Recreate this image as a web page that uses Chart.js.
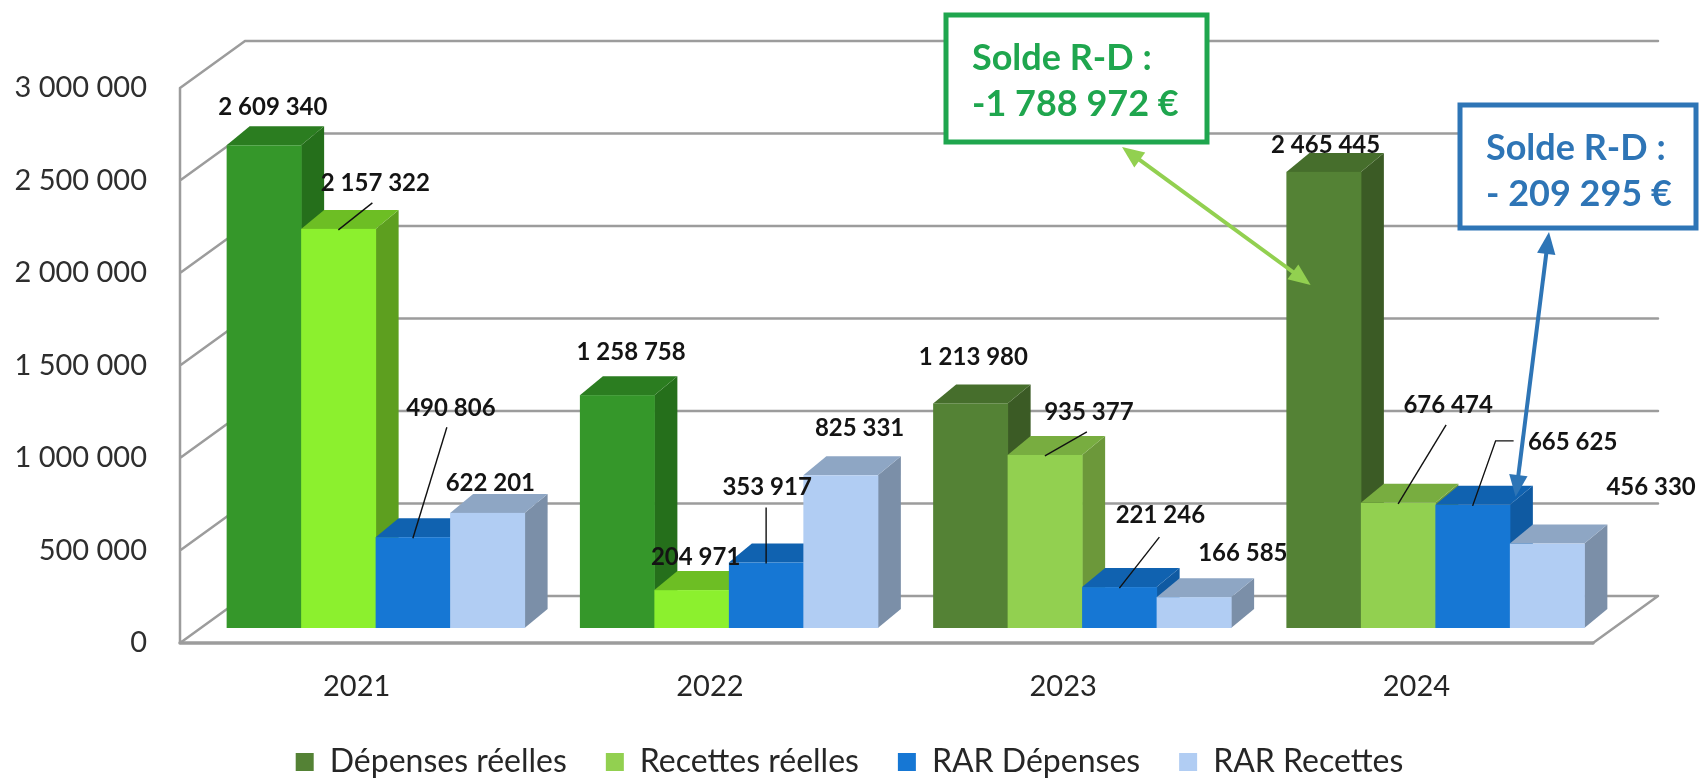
<!DOCTYPE html>
<html lang="fr">
<head>
<meta charset="utf-8">
<title>Dépenses et recettes réelles 2021-2024</title>
<script src="https://cdn.jsdelivr.net/npm/chart.js@4.4.1/dist/chart.umd.min.js"></script>
<style>
  html, body { margin: 0; padding: 0; background: #fff; }
  #chart { display: block; }
</style>
</head>
<body>
<canvas id="chart" width="1699" height="782"></canvas>
<script>
// Values per year
const years = ['2021', '2022', '2023', '2024'];
const depensesReelles = [2609340, 1258758, 1213980, 2465445];
const recettesReelles = [2157322, 204971, 935377, 676474];
const rarDepenses = [490806, 353917, 221246, 665625];
const rarRecettes = [622201, 825331, 166585, 456330];
const yMax = 3000000;
const yStep = 500000;

// Balance call-outs
const soldeTitle = 'Solde R-D :';
const soldeReel = '-1 788 972 €';
const soldeRar = '- 209 295 €';

// Face colours [front, top, side] per series, per year
const faces = [
  [['#35972a', '#2b7d20', '#256f1b'], ['#35972a', '#2b7d20', '#256f1b'], ['#548235', '#466e2c', '#3b5b25'], ['#548235', '#466e2c', '#3b5b25']],
  [['#8cf02e', '#6dbe24', '#5d9f1f'], ['#8cf02e', '#6dbe24', '#5d9f1f'], ['#92d050', '#78ad40', '#6c983a'], ['#92d050', '#78ad40', '#6c983a']],
  [['#1677d4', '#1062b0', '#0f5aa2'], ['#1677d4', '#1062b0', '#0f5aa2'], ['#1677d4', '#1062b0', '#0f5aa2'], ['#1677d4', '#1062b0', '#0f5aa2']],
  [['#b1cdf3', '#8ea6c4', '#7b8fa8'], ['#b1cdf3', '#8ea6c4', '#7b8fa8'], ['#b1cdf3', '#8ea6c4', '#7b8fa8'], ['#b1cdf3', '#8ea6c4', '#7b8fa8']]
];

// Value label placement, relative to the top centre of each bar's front face
const labelOffsets = [
  [[9, -38], [14, -43], [3, -46], [2, -27]],
  [[37, -46], [4, -33], [44, -43], [50, -98]],
  [[38, -129], [1, -75], [41, -72], [100, -63]],
  [[3, -30], [19, -47], [49, -44], [104, -56]]
];
// Leader lines: start relative to label centre, optional elbow
const leaders = [
  { s: 1, y: 0, from: [-3, 20] },
  { s: 2, y: 0, from: [-4, 19] },
  { s: 2, y: 1, from: [-1, 20] },
  { s: 1, y: 2, from: [-2, 20] },
  { s: 2, y: 2, from: [-1, 22] },
  { s: 1, y: 3, from: [-2, 20] },
  { s: 2, y: 3, from: [-59, -1], elbow: [-77, -1] }
];

// 3D geometry
const WALL_DX = 65, WALL_DY = -47;   // depth of side wall / floor
const BAR_SHIFT_X = 19, BAR_SHIFT_Y = -15;  // bars stand a bit behind the front plane
const BAR_DX = 23, BAR_DY = -19;     // bar thickness
const GRID_COLOR = '#9c9c9c';

function fmt(v) {
  return String(v).replace(/\B(?=(\d{3})+(?!\d))/g, ' ');
}

function barGeom(chart, s, i) {
  const bar = chart.getDatasetMeta(s).data[i];
  const left = bar.x - bar.width / 2 + BAR_SHIFT_X;
  const right = bar.x + bar.width / 2 + BAR_SHIFT_X;
  return { left, right, cx: (left + right) / 2, top: bar.y + BAR_SHIFT_Y, base: bar.base + BAR_SHIFT_Y };
}

function drawBox(ctx, g, col) {
  const [front, top, side] = col;
  ctx.fillStyle = side;
  ctx.beginPath();
  ctx.moveTo(g.right, g.top);
  ctx.lineTo(g.right + BAR_DX, g.top + BAR_DY);
  ctx.lineTo(g.right + BAR_DX, g.base + BAR_DY);
  ctx.lineTo(g.right, g.base);
  ctx.closePath();
  ctx.fill();

  ctx.fillStyle = top;
  ctx.beginPath();
  ctx.moveTo(g.left, g.top);
  ctx.lineTo(g.left + BAR_DX, g.top + BAR_DY);
  ctx.lineTo(g.right + BAR_DX, g.top + BAR_DY);
  ctx.lineTo(g.right, g.top);
  ctx.closePath();
  ctx.fill();

  ctx.fillStyle = front;
  ctx.fillRect(g.left, g.top, g.right - g.left + 0.5, g.base - g.top);
}

function doubleArrow(ctx, x1, y1, x2, y2, color, w, head) {
  const ang = Math.atan2(y2 - y1, x2 - x1);
  const ux = Math.cos(ang), uy = Math.sin(ang);
  ctx.strokeStyle = color;
  ctx.fillStyle = color;
  ctx.lineWidth = w;
  ctx.beginPath();
  ctx.moveTo(x1 + ux * head * 0.8, y1 + uy * head * 0.8);
  ctx.lineTo(x2 - ux * head * 0.8, y2 - uy * head * 0.8);
  ctx.stroke();
  [[x1, y1, -1], [x2, y2, 1]].forEach(([x, y, dir]) => {
    const bx = x - dir * ux * head, by = y - dir * uy * head;
    ctx.beginPath();
    ctx.moveTo(x, y);
    ctx.lineTo(bx - uy * head * 0.42, by + ux * head * 0.42);
    ctx.lineTo(bx + uy * head * 0.42, by - ux * head * 0.42);
    ctx.closePath();
    ctx.fill();
  });
}

function calloutBox(ctx, x, y, w, h, color, lines) {
  ctx.fillStyle = '#fff';
  ctx.fillRect(x, y, w, h);
  ctx.strokeStyle = color;
  ctx.lineWidth = 5;
  ctx.strokeRect(x, y, w, h);
  ctx.fillStyle = color;
  ctx.font = 'bold 36px Lato';
  ctx.textAlign = 'left';
  ctx.textBaseline = 'middle';
  lines.forEach((t, k) => ctx.fillText(t, x + 26, y + 43 + k * 46));
}

const chart3d = {
  id: 'chart3d',
  afterLayout(chart) {
    // centre the legend on the whole canvas, not on the plot
    const lg = chart.legend;
    if (lg) {
      lg.left = 0;
      lg.right = chart.width;
      lg.width = chart.width;
    }
  },
  beforeDatasetsDraw(chart) {
    const { ctx, chartArea: a, scales: { y } } = chart;
    ctx.save();
    ctx.strokeStyle = GRID_COLOR;
    ctx.lineWidth = 2.5;
    ctx.lineCap = 'round';

    // side wall: front edge and one diagonal per tick
    ctx.beginPath();
    ctx.moveTo(a.left, y.getPixelForValue(yMax));
    ctx.lineTo(a.left, a.bottom);
    for (let v = 0; v <= yMax; v += yStep) {
      const py = y.getPixelForValue(v);
      ctx.moveTo(a.left, py);
      ctx.lineTo(a.left + WALL_DX, py + WALL_DY);
    }
    // back wall gridlines
    for (let v = 0; v <= yMax; v += yStep) {
      const py = y.getPixelForValue(v) + WALL_DY;
      ctx.moveTo(a.left + WALL_DX, py);
      ctx.lineTo(a.right + WALL_DX, py);
    }
    // floor edges
    ctx.moveTo(a.right + WALL_DX, a.bottom + WALL_DY);
    ctx.lineTo(a.right, a.bottom);
    ctx.stroke();
    ctx.lineWidth = 3.5;
    ctx.beginPath();
    ctx.moveTo(a.left, a.bottom);
    ctx.lineTo(a.right, a.bottom);
    ctx.stroke();

    // bars, left to right so each one hides its neighbour's side
    years.forEach((_, i) => {
      chart.data.datasets.forEach((ds, s) => {
        drawBox(ctx, barGeom(chart, s, i), faces[s][i]);
      });
    });
    ctx.restore();
    return false;
  },
  afterDraw(chart) {
    const { ctx } = chart;
    ctx.save();

    // leader lines
    ctx.strokeStyle = '#111';
    ctx.lineWidth = 1.4;
    leaders.forEach(l => {
      const g = barGeom(chart, l.s, l.y);
      const off = labelOffsets[l.s][l.y];
      const lx = g.cx + off[0], ly = g.top + off[1];
      ctx.beginPath();
      ctx.moveTo(lx + l.from[0], ly + l.from[1]);
      if (l.elbow) ctx.lineTo(lx + l.elbow[0], ly + l.elbow[1]);
      ctx.lineTo(g.cx, g.top + 1);
      ctx.stroke();
    });

    // value labels
    ctx.font = 'bold 24px Lato';
    ctx.fillStyle = '#141414';
    ctx.textAlign = 'center';
    ctx.textBaseline = 'middle';
    chart.data.datasets.forEach((ds, s) => {
      ds.data.forEach((v, i) => {
        const g = barGeom(chart, s, i);
        const off = labelOffsets[s][i];
        ctx.fillText(fmt(v), g.cx + off[0], g.top + off[1]);
      });
    });

    // balance call-outs with their arrows
    const dr = barGeom(chart, 0, 3);
    const rd = barGeom(chart, 2, 3);
    doubleArrow(ctx, 1122, 147, dr.cx - 13, dr.top + 113, '#92d050', 4, 22);
    doubleArrow(ctx, 1549, 232, rd.cx + 43, rd.top - 8, '#2e75b6', 4, 22);
    calloutBox(ctx, 946, 15, 261, 127, '#1fa64e', [soldeTitle, soldeReel]);
    calloutBox(ctx, 1460, 105, 236, 123, '#2e75b6', [soldeTitle, soldeRar]);
    ctx.restore();
  }
};

const tickFont = { family: 'Lato', size: 29 };

new Chart(document.getElementById('chart'), {
  type: 'bar',
  data: {
    labels: years,
    datasets: [
      { label: 'Dépenses réelles', data: depensesReelles, backgroundColor: '#548235' },
      { label: 'Recettes réelles', data: recettesReelles, backgroundColor: '#92d050' },
      { label: 'RAR Dépenses', data: rarDepenses, backgroundColor: '#1677d4' },
      { label: 'RAR Recettes', data: rarRecettes, backgroundColor: '#b1cdf3' }
    ]
  },
  options: {
    responsive: false,
    animation: false,
    devicePixelRatio: 1,
    layout: { padding: { top: 88, right: 106, bottom: -6, left: 0 } },
    datasets: { bar: { categoryPercentage: 0.8435, barPercentage: 1 } },
    scales: {
      x: {
        grid: { display: false, drawTicks: false },
        border: { display: false },
        ticks: { font: tickFont, color: '#262626', padding: 26 },
        afterFit(scale) { scale.height = 64; }
      },
      y: {
        min: 0,
        max: yMax,
        grid: { display: false, drawTicks: false },
        border: { display: false },
        ticks: { stepSize: yStep, padding: 33, font: tickFont, color: '#2e2e2e', callback: v => fmt(v) },
        afterFit(scale) { scale.width = 180; }
      }
    },
    plugins: {
      legend: {
        position: 'bottom',
        labels: { boxWidth: 18, boxHeight: 18, padding: 39, font: { family: 'Lato', size: 32 }, color: '#262626' }
      },
      tooltip: { enabled: false }
    }
  },
  plugins: [chart3d]
});
</script>
</body>
</html>
